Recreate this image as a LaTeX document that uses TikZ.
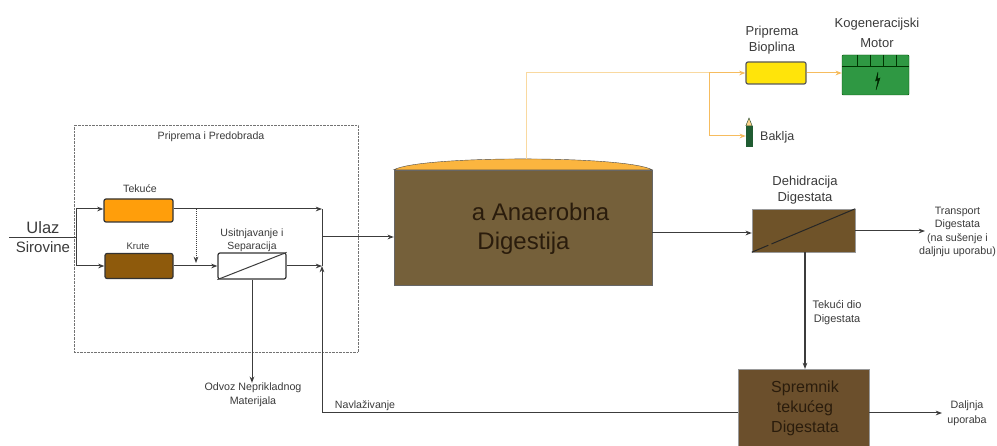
\documentclass[tikz,border=0pt]{standalone}
\usepackage{fontspec}
\setmainfont{Liberation Sans}
\usepackage{tikz}
\usetikzlibrary{positioning,arrows.meta,calc}
\definecolor{tekuceC}{HTML}{FF9E0B}
\definecolor{kruteC}{HTML}{8E5A0C}
\definecolor{digestC}{HTML}{75603A}
\definecolor{domeC}{HTML}{FBB53F}
\definecolor{dehydC}{HTML}{6F5329}
\definecolor{tankC}{HTML}{6B4F2C}
\definecolor{plinC}{HTML}{F6BC5E}
\definecolor{plinP}{HTML}{F9D9A0}
\definecolor{gasC}{HTML}{FFE40A}
\definecolor{motorC}{HTML}{2F9843}
\definecolor{flareC}{HTML}{205C32}
\definecolor{lineC}{HTML}{3C3C3C}
\definecolor{labelC}{HTML}{3A3A3A}
\definecolor{inkC}{HTML}{2A1C0C}

\begin{document}
\begin{tikzpicture}[
    x=1pt, y=-1pt,
    font=\fontsize{10.6}{13}\selectfont,
    lbl/.style={text=labelC, align=center, inner sep=0pt},
    proc/.style={draw=black!80, line width=1.2pt, rounded corners=2pt, inner sep=0pt},
    tank/.style={draw=black!60, inner sep=0pt},
    op/.style={->, >={Stealth[length=2.2mm]}, lineC, line width=1pt},
    gas/.style={->, >={Stealth[length=2.2mm]}, plinC, line width=1pt},
  ]
  \useasboundingbox (0,0) rectangle (997,446);

  % --- priprema i predobrada (left) ---
  \node[draw=black!55, densely dotted, minimum width=284pt, minimum height=227pt,
        inner sep=0pt] (prep) at (216,238.5) {};
  \node[lbl] (prepT) at (211,137) {Priprema i Predobrada};

  \node[proc, fill=tekuceC, minimum width=69pt, minimum height=23pt] (tekuce) at (138.5,210.5) {};
  \node[lbl] (tekuceT) at (140,189) {Tekuće};
  \node[proc, fill=kruteC, minimum width=68pt, minimum height=25pt] (krute) at (139,266) {};
  \node[lbl, font=\fontsize{9.5}{11}\selectfont] (kruteT) at (138,246) {Krute};
  \node[proc, fill=white, minimum width=68pt, minimum height=26pt] (sep) at (252,266) {};
  \node[lbl] (sepT) at (252,234) {Usitnjavanje i};
  \node[lbl, font=\fontsize{10.4}{12}\selectfont] (sepB) at (252,247) {Separacija};
  \draw[lineC, line width=1pt] (sep.south west) -- (sep.north east);

  % ulaz and the two branches
  \node[lbl, font=\fontsize{16.5}{18}\selectfont] (ulaz) at (43,228) {Ulaz};
  \node[lbl, font=\fontsize{15}{17}\selectfont] (sirovine) at (43,247) {Sirovine};
  \coordinate (inL) at (9,238);
  \coordinate (inJ) at (76.5,238);
  \coordinate (mergeT) at (322,209);
  \coordinate (mergeM) at (322,237);
  \coordinate (mergeB) at (322,266);
  \coordinate (dotT) at (196,209);
  \coordinate (dotB) at (196,263);
  \draw[lineC, line width=1pt] (inL) -- (inJ);
  \draw[op] (inJ) |- (tekuce.west |- mergeT);
  \draw[op] (inJ) |- (krute.west);
  \draw[op] (tekuce.east |- mergeT) -- (mergeT);
  \draw[op] (krute.east) -- (sep.west);
  \draw[op] (sep.east) -- (mergeB);
  \draw[op, densely dotted] (dotT) -- (dotB);
  \draw[lineC, line width=1pt] (mergeT) -- (mergeB);

  % --- anaerobna digestija (middle) ---
  \node[tank, fill=digestC, minimum width=258pt, minimum height=115pt] (dig) at (523,227.5) {};
  \draw[black!70, fill=domeC] (dig.north west) .. controls (420,155.3) and (626,155.3) .. (dig.north east) -- cycle;
  \node[lbl, text=inkC, font=\fontsize{24}{28}\selectfont] (digA) at (540.5,212) {a Anaerobna};
  \node[lbl, text=inkC, font=\fontsize{24}{28}\selectfont] (digB) at (523.5,243) {Digestija};
  \draw[op] (mergeM) -- (mergeM -| dig.west);

  % --- bioplin (top right) ---
  \node[proc, draw=black!65, fill=gasC, minimum width=60pt, minimum height=22pt] (prip) at (776,73) {};
  \node[lbl, font=\fontsize{13}{16}\selectfont] (pripT) at (772,40) {Priprema\\Bioplina};
  \node[draw=green!30!black, fill=motorC, rounded corners=1pt, minimum width=67pt, minimum height=40pt,
        inner sep=0pt] (motor) at (875.5,75) {};
  \node[lbl, font=\fontsize{13}{20}\selectfont] (motorT) at (877,33) {Kogeneracijski\\Motor};
  \draw[green!20!black, line width=0.8pt] (842,66) -- (909,66);
  \foreach \x in {857,870,883,896}
    \draw[green!20!black, line width=0.8pt] (\x,55) -- (\x,66);
  \draw[green!15!black, fill=green!15!black] (878,72) -- (875.5,81) -- (878,80) -- (876,90) -- (880,78) -- (877.5,79) -- cycle;
  \node[draw=flareC, fill=flareC, minimum width=6pt, minimum height=20pt, inner sep=0pt] (flare) at (749,136) {};
  \draw[flareC!70!black, fill=domeC!60] (flare.north west) -- (749,118) -- (flare.north east) -- cycle;
  \node[lbl, font=\fontsize{12.5}{15}\selectfont, anchor=west] (flareT) at (760,137) {Baklja};

  \coordinate (gasK) at (526,73);
  \coordinate (gasJ) at (709,73);
  \draw[plinP, line width=1pt] (526,159) -- (gasK) -- (gasJ);
  \draw[gas] (gasJ) -- (prip.west);
  \draw[gas] (gasJ) |- (flare.west);
  \draw[gas] (prip.east) -- (prip.east -| motor.west);

  % --- dehidracija (right) ---
  \node[tank, draw=black!40, fill=dehydC, minimum width=103pt, minimum height=43pt] (dehyd) at (803.5,230.5) {};
  \node[lbl, font=\fontsize{13}{16}\selectfont] (dehydT) at (805,190) {Dehidracija\\Digestata};
  \draw[black!85, line width=1pt] (dehyd.south west) -- ($(dehyd.south west)!0.16!(dehyd.north east)$);
  \draw[black!85, line width=1pt] ($(dehyd.south west)!0.19!(dehyd.north east)$) -- (dehyd.north east);
  \draw[op] (dig.east |- 0,233) -- (dehyd.west |- 0,233);
  \node[lbl, font=\fontsize{10.7}{13.5}\selectfont] (transp) at (957.5,232) {Transport\\Digestata\\(na sušenje i\\daljnju uporabu)};
  \draw[op] (dehyd.east |- 0,231) -- (925,231);

  \node[tank, draw=black!40, fill=tankC, minimum width=131pt, minimum height=79pt] (spr) at (803.5,408.5) {};
  \node[lbl, text=inkC, font=\fontsize{16}{20}\selectfont] (sprT) at (805,408) {Spremnik\\tekućeg\\Digestata};
  \draw[op, line width=1.2pt] (805,252) -- node[lbl, font=\fontsize{11}{14}\selectfont, right=7pt, pos=0.52] (tekuciT) {Tekući dio\\Digestata} (805,369);
  \node[lbl, font=\fontsize{10.7}{15}\selectfont] (dalj) at (967,413.5) {Daljnja\\uporaba};
  \draw[op] (spr.east |- 0,413) -- (942,413);

  % --- odvoz and navlazivanje (bottom) ---
  \node[lbl, font=\fontsize{10.7}{14}\selectfont] (odvoz) at (253,395) {Odvoz Neprikladnog\\Materijala};
  \draw[op] (sep.south) -- (sep.south |- odvoz.north);
  \node[lbl] (navl) at (365,406) {Navlaživanje};
  \coordinate (navlK) at (322,413);
  \draw[lineC, line width=1pt] (spr.west |- navlK) -- (navlK);
  \draw[op] (navlK) -- (mergeB);
\end{tikzpicture}
\end{document}
